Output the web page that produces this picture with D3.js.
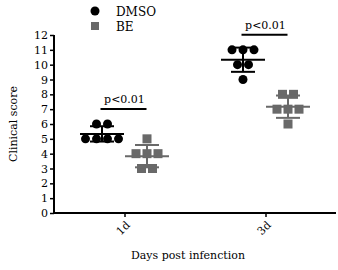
<!DOCTYPE html>
<html>
<head>
<meta charset="utf-8">
<script src="https://cdn.jsdelivr.net/npm/d3@7"></script>
<style>
  body { margin: 0; background: #fff; }
  svg text { fill: #000; }
</style>
</head>
<body>
<div id="chart"></div>
<script>
// data
var days = ["1d", "3d"];
var groups = ["DMSO", "BE"];
var dmsoScores = [[6, 6, 5, 5, 5, 5], [11, 11, 11, 10, 10, 9]];
var beScores = [[5, 4, 4, 4, 3, 3], [8, 8, 7, 7, 7, 6]];
var yTicks = [0, 1, 2, 3, 4, 5, 6, 7, 8, 9, 10, 11, 12];
var pLabels = ["p<0.01", "p<0.01"];

var width = 338, height = 270;
var color = { DMSO: "#000000", BE: "#696969" };
var serif = "'DejaVu Serif', serif";

var svg = d3.select("#chart").append("svg")
    .attr("width", width)
    .attr("height", height)
    .attr("font-family", serif);

var x = d3.scalePoint()
    .domain(days)
    .range([54, 336])
    .padding(0.5);

var sub = d3.scaleBand()
    .domain(groups)
    .range([-45, 45]);

var y = d3.scaleLinear()
    .domain([0, 12])
    .range([213, 35]);

// axes
var yAxis = svg.append("g")
    .attr("transform", "translate(54,0)")
    .call(d3.axisLeft(y).tickValues(yTicks).tickSize(4).tickPadding(2));
yAxis.attr("font-family", serif).attr("font-size", 11);
yAxis.select(".domain").attr("stroke-width", 2).attr("d", "M0," + y(12) + "V" + y(0));
yAxis.selectAll(".tick line").attr("stroke-width", 1.5);

var xAxis = svg.append("g")
    .attr("transform", "translate(0," + y(0) + ")")
    .call(d3.axisBottom(x).tickSize(4).tickSizeOuter(0));
xAxis.attr("font-family", serif).attr("font-size", 11);
xAxis.select(".domain").attr("stroke-width", 2).attr("d", "M53,0H336");
xAxis.selectAll(".tick line").attr("stroke-width", 1.5);
xAxis.selectAll("text")
    .style("text-anchor", "end")
    .attr("x", 0)
    .attr("y", 0)
    .attr("dy", "0.35em")
    .attr("transform", "translate(3,10)rotate(-45)");

svg.append("text")
    .attr("transform", "translate(17,124)rotate(-90)")
    .attr("text-anchor", "middle")
    .attr("font-size", 11)
    .text("Clinical score");

svg.append("text")
    .attr("x", 188)
    .attr("y", 259)
    .attr("text-anchor", "middle")
    .attr("font-size", 11)
    .text("Days post infenction");

// points + mean/sd bars
var spacing = 11;
var series = { DMSO: dmsoScores, BE: beScores };

groups.forEach(function (g) {
    series[g].forEach(function (vals, di) {
        var cx = x(days[di]) + sub(g) + sub.bandwidth() / 2;
        var m = d3.mean(vals), sd = d3.deviation(vals);
        var layer = svg.append("g");

        // spread equal values side by side
        var counts = d3.rollup(vals, function (v) { return v.length; }, function (d) { return d; });
        var seen = new Map();
        var pts = vals.map(function (v) {
            var k = seen.get(v) || 0; seen.set(v, k + 1);
            var n = counts.get(v);
            return { v: v, dx: (k - (n - 1) / 2) * spacing };
        });

        if (g === "DMSO") {
            layer.selectAll("circle").data(pts).enter().append("circle")
                .attr("cx", function (d) { return cx + d.dx; })
                .attr("cy", function (d) { return y(d.v); })
                .attr("r", 4.5)
                .attr("fill", color[g]);
        } else {
            layer.selectAll("rect").data(pts).enter().append("rect")
                .attr("x", function (d) { return cx + d.dx - 4.5; })
                .attr("y", function (d) { return y(d.v) - 4.5; })
                .attr("width", 9)
                .attr("height", 9)
                .attr("fill", color[g]);
        }

        var bar = svg.append("g").attr("stroke", color[g]).attr("stroke-width", 2);
        bar.append("line").attr("x1", cx - 22).attr("x2", cx + 22).attr("y1", y(m)).attr("y2", y(m));
        bar.append("line").attr("x1", cx).attr("x2", cx).attr("y1", y(m - sd)).attr("y2", y(m + sd));
        bar.append("line").attr("x1", cx - 12).attr("x2", cx + 12).attr("y1", y(m + sd)).attr("y2", y(m + sd));
        bar.append("line").attr("x1", cx - 12).attr("x2", cx + 12).attr("y1", y(m - sd)).attr("y2", y(m - sd));
    });
});

// significance brackets
days.forEach(function (d, i) {
    var top = Math.max(d3.max(dmsoScores[i]), d3.max(beScores[i]));
    var ly = y(top) - 15;
    var cx = x(d);
    svg.append("line")
        .attr("x1", cx - 24).attr("x2", cx + 22)
        .attr("y1", ly).attr("y2", ly)
        .attr("stroke", "#000").attr("stroke-width", 2);
    svg.append("text")
        .attr("x", cx).attr("y", ly - 6)
        .attr("text-anchor", "middle")
        .attr("font-size", 11)
        .text(pLabels[i]);
});

// legend
var legend = svg.append("g");
groups.forEach(function (g, i) {
    var ly = 11 + i * 15;
    if (g === "DMSO") {
        legend.append("circle").attr("cx", 95).attr("cy", ly).attr("r", 4.5).attr("fill", color[g]);
    } else {
        legend.append("rect").attr("x", 91).attr("y", ly - 4).attr("width", 8).attr("height", 8).attr("fill", color[g]);
    }
    legend.append("text").attr("x", 116).attr("y", ly + 4.5).attr("font-size", 12).text(g);
});
</script>
</body>
</html>
